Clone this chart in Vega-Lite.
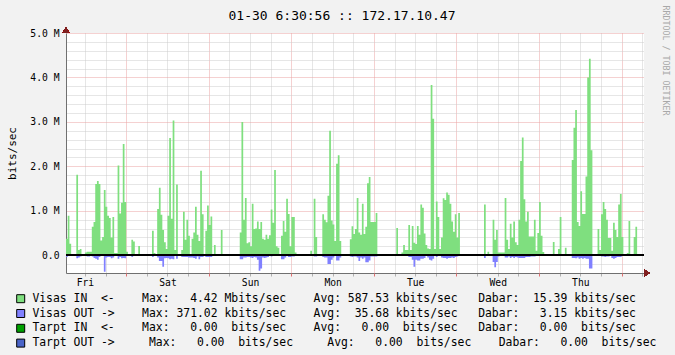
{
  "$schema": "https://vega.github.io/schema/vega-lite/v6.json",
  "width": 578,
  "height": 240,
  "autosize": {"type": "none"},
  "padding": {"left": 66, "top": 33, "right": 31, "bottom": 82},
  "background": "#F2F2F2",
  "config": {
    "view": {"fill": "#FFFFFF", "stroke": null},
    "font": "DejaVu Sans Mono"
  },
  "title": {
    "text": "01-30 6:30:56 :: 172.17.10.47",
    "font": "DejaVu Sans Mono",
    "fontSize": 13,
    "fontWeight": "normal",
    "color": "#000000",
    "anchor": "middle",
    "frame": "group",
    "baseline": "alphabetic",
    "dx": -13,
    "offset": -28
  },
  "data": {
    "values": [
      {"h":6.5,"vin":0.37,"vout":-0.04},{"h":7,"vin":0.89,"vout":0},{"h":7.5,"vin":0.26,"vout":0},{"h":8,"vin":0.03,"vout":0},{"h":8.5,"vin":0.03,"vout":0},{"h":9,"vin":0,"vout":0},{"h":9.5,"vin":1.81,"vout":-0.07},{"h":10,"vin":0.12,"vout":-0.05},{"h":10.5,"vin":0.14,"vout":-0.03},{"h":11,"vin":0,"vout":0},{"h":11.5,"vin":0,"vout":0},{"h":12,"vin":0.06,"vout":0},{"h":12.5,"vin":0.08,"vout":-0.03},{"h":13,"vin":0.08,"vout":-0.03},{"h":13.5,"vin":0.08,"vout":0},{"h":14,"vin":0.64,"vout":-0.03},{"h":14.5,"vin":0.75,"vout":-0.06},{"h":15,"vin":1.6,"vout":-0.08},{"h":15.5,"vin":1.67,"vout":-0.1},{"h":16,"vin":1.6,"vout":-0.04},{"h":16.5,"vin":0.33,"vout":0},{"h":17,"vin":0.41,"vout":0},{"h":17.5,"vin":1.47,"vout":-0.37},{"h":18,"vin":1.09,"vout":-0.05},{"h":18.5,"vin":0.89,"vout":-0.04},{"h":19,"vin":0.84,"vout":-0.04},{"h":19.5,"vin":0.4,"vout":-0.07},{"h":20,"vin":0.86,"vout":-0.05},{"h":20.5,"vin":0.05,"vout":0},{"h":21,"vin":0.05,"vout":0},{"h":21.5,"vin":2.02,"vout":-0.08},{"h":22,"vin":0.94,"vout":-0.04},{"h":22.5,"vin":1.18,"vout":-0.07},{"h":23,"vin":2.5,"vout":-0.06},{"h":23.5,"vin":1.2,"vout":-0.07},
      {"h":24,"vin":0.08,"vout":0},{"h":24.5,"vin":0,"vout":0},{"h":25,"vin":0,"vout":0},{"h":25.5,"vin":0.35,"vout":-0.04},{"h":26,"vin":0.31,"vout":0},{"h":26.5,"vin":0,"vout":0},{"h":27,"vin":0,"vout":0},{"h":27.5,"vin":0.21,"vout":0},{"h":28,"vin":0,"vout":0},{"h":28.5,"vin":0,"vout":0},{"h":29,"vin":0,"vout":0},{"h":29.5,"vin":0,"vout":0},{"h":30,"vin":0,"vout":0},{"h":30.5,"vin":0,"vout":0},{"h":31,"vin":0,"vout":0},{"h":31.5,"vin":0.55,"vout":-0.04},{"h":32,"vin":0.05,"vout":0},{"h":32.5,"vin":0.03,"vout":0},{"h":33,"vin":1.04,"vout":-0.05},{"h":33.5,"vin":1.52,"vout":-0.13},{"h":34,"vin":0.91,"vout":-0.13},{"h":34.5,"vin":0.57,"vout":-0.26},{"h":35,"vin":0.29,"vout":-0.07},{"h":35.5,"vin":0.14,"vout":-0.06},{"h":36,"vin":0.89,"vout":-0.07},{"h":36.5,"vin":2.64,"vout":-0.09},{"h":37,"vin":0.82,"vout":-0.08},{"h":37.5,"vin":3.03,"vout":-0.09},{"h":38,"vin":0.12,"vout":0},{"h":38.5,"vin":1.59,"vout":-0.08},{"h":39,"vin":0,"vout":0},{"h":39.5,"vin":0,"vout":0},{"h":40,"vin":0.12,"vout":-0.04},{"h":40.5,"vin":0.98,"vout":-0.04},{"h":41,"vin":0.35,"vout":-0.04},{"h":41.5,"vin":0.8,"vout":-0.04},{"h":42,"vin":0.44,"vout":-0.05},{"h":42.5,"vin":0.03,"vout":-0.05},{"h":43,"vin":0.37,"vout":-0.05},{"h":43.5,"vin":0.51,"vout":-0.06},{"h":44,"vin":1.09,"vout":-0.08},{"h":44.5,"vin":0.46,"vout":-0.03},{"h":45,"vin":0.32,"vout":-0.09},{"h":45.5,"vin":1.9,"vout":-0.04},{"h":46,"vin":0.92,"vout":-0.04},{"h":46.5,"vin":0.03,"vout":0},{"h":47,"vin":0.55,"vout":-0.04},{"h":47.5,"vin":1.12,"vout":-0.04},
      {"h":48,"vin":0.68,"vout":-0.04},{"h":48.5,"vin":0.87,"vout":-0.04},{"h":49,"vin":0.03,"vout":0},{"h":49.5,"vin":0.23,"vout":0},{"h":50,"vin":0.03,"vout":0},{"h":50.5,"vin":0,"vout":0},{"h":51,"vin":0,"vout":0},{"h":51.5,"vin":0.57,"vout":0},{"h":52,"vin":0,"vout":0},{"h":52.5,"vin":0,"vout":0},{"h":53,"vin":0,"vout":0},{"h":53.5,"vin":0,"vout":0},{"h":54,"vin":0,"vout":0},{"h":54.5,"vin":0,"vout":0},{"h":55,"vin":0,"vout":0},{"h":55.5,"vin":0,"vout":0},{"h":56,"vin":0,"vout":0},{"h":56.5,"vin":0.03,"vout":-0.02},{"h":57,"vin":0.51,"vout":-0.09},{"h":57.5,"vin":3.0,"vout":-0.09},{"h":58,"vin":0.8,"vout":-0.05},{"h":58.5,"vin":1.29,"vout":-0.05},{"h":59,"vin":0.27,"vout":-0.04},{"h":59.5,"vin":0.29,"vout":-0.04},{"h":60,"vin":0.2,"vout":-0.05},{"h":60.5,"vin":1.16,"vout":-0.06},{"h":61,"vin":0.59,"vout":-0.04},{"h":61.5,"vin":0.6,"vout":-0.05},{"h":62,"vin":0.76,"vout":-0.1},{"h":62.5,"vin":0.59,"vout":-0.35},{"h":63,"vin":0.75,"vout":-0.3},{"h":63.5,"vin":0.37,"vout":-0.05},{"h":64,"vin":0.35,"vout":-0.06},{"h":64.5,"vin":0.46,"vout":-0.05},{"h":65,"vin":0.37,"vout":-0.04},{"h":65.5,"vin":0.45,"vout":0},{"h":66,"vin":1.03,"vout":-0.03},{"h":66.5,"vin":0.73,"vout":0},{"h":67,"vin":1.92,"vout":0},{"h":67.5,"vin":0.2,"vout":0},{"h":68,"vin":0.17,"vout":0},{"h":68.5,"vin":0.03,"vout":0},{"h":69,"vin":0.44,"vout":-0.09},{"h":69.5,"vin":0.77,"vout":-0.09},{"h":70,"vin":0.53,"vout":-0.05},{"h":70.5,"vin":1.27,"vout":0},{"h":71,"vin":0.93,"vout":-0.04},{"h":71.5,"vin":0.2,"vout":-0.04},
      {"h":72,"vin":0.86,"vout":-0.03},{"h":72.5,"vin":0.86,"vout":-0.03},{"h":73,"vin":0.06,"vout":0},{"h":73.5,"vin":0,"vout":0},{"h":74,"vin":0,"vout":0},{"h":74.5,"vin":0,"vout":0},{"h":75,"vin":0,"vout":0},{"h":75.5,"vin":0,"vout":0},{"h":76,"vin":0,"vout":0},{"h":76.5,"vin":0,"vout":0},{"h":77,"vin":0.03,"vout":0},{"h":77.5,"vin":0.1,"vout":0},{"h":78,"vin":0,"vout":0},{"h":78.5,"vin":1.27,"vout":-0.03},{"h":79,"vin":0.41,"vout":-0.03},{"h":79.5,"vin":0,"vout":0},{"h":80,"vin":0,"vout":0},{"h":80.5,"vin":0.03,"vout":0},{"h":81,"vin":0.92,"vout":-0.04},{"h":81.5,"vin":0.8,"vout":-0.05},{"h":82,"vin":0.74,"vout":-0.05},{"h":82.5,"vin":1.34,"vout":-0.2},{"h":83,"vin":2.8,"vout":-0.2},{"h":83.5,"vin":0.78,"vout":-0.1},{"h":84,"vin":0.69,"vout":-0.05},{"h":84.5,"vin":0.32,"vout":0},{"h":85,"vin":2.06,"vout":-0.12},{"h":85.5,"vin":2.25,"vout":-0.12},{"h":86,"vin":0.32,"vout":-0.05},{"h":86.5,"vin":0,"vout":0},{"h":87,"vin":0,"vout":0},{"h":87.5,"vin":0,"vout":0},{"h":88,"vin":0,"vout":0},{"h":88.5,"vin":0,"vout":0},{"h":89,"vin":0.36,"vout":-0.03},{"h":89.5,"vin":0.65,"vout":-0.04},{"h":90,"vin":0.48,"vout":-0.03},{"h":90.5,"vin":0.59,"vout":-0.03},{"h":91,"vin":1.29,"vout":-0.05},{"h":91.5,"vin":0.51,"vout":-0.13},{"h":92,"vin":0.46,"vout":-0.05},{"h":92.5,"vin":1.16,"vout":-0.08},{"h":93,"vin":0.48,"vout":-0.05},{"h":93.5,"vin":0.64,"vout":-0.16},{"h":94,"vin":1.62,"vout":-0.16},{"h":94.5,"vin":1.76,"vout":-0.12},{"h":95,"vin":0.75,"vout":-0.03},{"h":95.5,"vin":0.75,"vout":-0.03},
      {"h":96,"vin":0.75,"vout":-0.03},{"h":96.5,"vin":0.95,"vout":-0.03},{"h":97,"vin":0.03,"vout":0},{"h":97.5,"vin":0,"vout":0},{"h":98,"vin":0.03,"vout":0},{"h":98.5,"vin":0.03,"vout":0},{"h":99,"vin":0.03,"vout":0},{"h":99.5,"vin":0,"vout":0},{"h":100,"vin":0,"vout":0},{"h":100.5,"vin":0,"vout":0},{"h":101,"vin":0,"vout":0},{"h":101.5,"vin":0,"vout":0},{"h":102,"vin":0,"vout":0},{"h":102.5,"vin":0.61,"vout":-0.02},{"h":103,"vin":0,"vout":0},{"h":103.5,"vin":0,"vout":0},{"h":104,"vin":0.06,"vout":0},{"h":104.5,"vin":0.23,"vout":0},{"h":105,"vin":0.12,"vout":0},{"h":105.5,"vin":0.12,"vout":0},{"h":106,"vin":0.68,"vout":-0.04},{"h":106.5,"vin":0.12,"vout":-0.04},{"h":107,"vin":0.66,"vout":-0.1},{"h":107.5,"vin":0.28,"vout":-0.26},{"h":108,"vin":0.25,"vout":-0.1},{"h":108.5,"vin":0.66,"vout":-0.12},{"h":109,"vin":0.46,"vout":-0.12},{"h":109.5,"vin":1.14,"vout":-0.08},{"h":110,"vin":1.07,"vout":-0.08},{"h":110.5,"vin":0.49,"vout":-0.06},{"h":111,"vin":0.23,"vout":0},{"h":111.5,"vin":0.15,"vout":-0.05},{"h":112,"vin":0.14,"vout":-0.1},{"h":112.5,"vin":3.83,"vout":-0.12},{"h":113,"vin":3.07,"vout":-0.08},{"h":113.5,"vin":0.14,"vout":0},{"h":114,"vin":1.21,"vout":-0.04},{"h":114.5,"vin":0.86,"vout":0},{"h":115,"vin":0.14,"vout":0},{"h":115.5,"vin":0.4,"vout":-0.05},{"h":116,"vin":1.28,"vout":-0.06},{"h":116.5,"vin":1.24,"vout":-0.06},{"h":117,"vin":1.41,"vout":-0.08},{"h":117.5,"vin":1.36,"vout":-0.06},{"h":118,"vin":1.16,"vout":-0.06},{"h":118.5,"vin":0.76,"vout":-0.05},{"h":119,"vin":0.53,"vout":-0.06},{"h":119.5,"vin":0.92,"vout":-0.04},
      {"h":120,"vin":0.4,"vout":-0.03},{"h":120.5,"vin":0.95,"vout":0},{"h":121,"vin":0.03,"vout":-0.02},{"h":121.5,"vin":0,"vout":0},{"h":122,"vin":0,"vout":0},{"h":122.5,"vin":0,"vout":0},{"h":123,"vin":0,"vout":0},{"h":123.5,"vin":0,"vout":0},{"h":124,"vin":0,"vout":0},{"h":124.5,"vin":0.03,"vout":0},{"h":125,"vin":0,"vout":0},{"h":125.5,"vin":0.03,"vout":0},{"h":126,"vin":0,"vout":0},{"h":126.5,"vin":0,"vout":0},{"h":127,"vin":0,"vout":0},{"h":127.5,"vin":0,"vout":0},{"h":128,"vin":1.14,"vout":-0.06},{"h":128.5,"vin":0.03,"vout":0},{"h":129,"vin":0.08,"vout":0},{"h":129.5,"vin":0.03,"vout":0},{"h":130,"vin":0.03,"vout":0},{"h":130.5,"vin":0.8,"vout":-0.15},{"h":131,"vin":0.35,"vout":-0.27},{"h":131.5,"vin":0.57,"vout":-0.15},{"h":132,"vin":0.06,"vout":-0.03},{"h":132.5,"vin":0.06,"vout":0},{"h":133,"vin":0.06,"vout":0},{"h":133.5,"vin":0.06,"vout":0},{"h":134,"vin":1.29,"vout":-0.05},{"h":134.5,"vin":0.35,"vout":-0.05},{"h":135,"vin":0.14,"vout":-0.03},{"h":135.5,"vin":0.71,"vout":-0.06},{"h":136,"vin":0.4,"vout":-0.04},{"h":136.5,"vin":0.76,"vout":-0.06},{"h":137,"vin":0.29,"vout":-0.04},{"h":137.5,"vin":0.23,"vout":-0.05},{"h":138,"vin":0.8,"vout":-0.06},{"h":138.5,"vin":2.12,"vout":-0.06},{"h":139,"vin":2.65,"vout":-0.06},{"h":139.5,"vin":1.26,"vout":-0.06},{"h":140,"vin":0.76,"vout":-0.04},{"h":140.5,"vin":0.98,"vout":-0.04},{"h":141,"vin":0.42,"vout":-0.04},{"h":141.5,"vin":0.42,"vout":-0.03},{"h":142,"vin":0.42,"vout":-0.03},{"h":142.5,"vin":0.8,"vout":-0.03},{"h":143,"vin":0.1,"vout":0},{"h":143.5,"vin":0.5,"vout":0},
      {"h":144,"vin":1.2,"vout":-0.02},{"h":144.5,"vin":0.44,"vout":-0.02},{"h":145,"vin":0.07,"vout":-0.02},{"h":145.5,"vin":0,"vout":0},{"h":146,"vin":0,"vout":0},{"h":146.5,"vin":0,"vout":0},{"h":147,"vin":0,"vout":0},{"h":147.5,"vin":0,"vout":0},{"h":148,"vin":0.3,"vout":0},{"h":148.5,"vin":0,"vout":0},{"h":149,"vin":0,"vout":0},{"h":149.5,"vin":0.14,"vout":0},{"h":150,"vin":0.86,"vout":-0.02},{"h":150.5,"vin":0,"vout":0},{"h":151,"vin":0,"vout":0},{"h":151.5,"vin":0.17,"vout":0},{"h":152,"vin":0,"vout":0},{"h":152.5,"vin":0,"vout":0},{"h":153,"vin":0,"vout":0},{"h":153.5,"vin":2.14,"vout":-0.06},{"h":154,"vin":2.87,"vout":-0.06},{"h":154.5,"vin":3.27,"vout":-0.07},{"h":155,"vin":0.75,"vout":-0.05},{"h":155.5,"vin":0.66,"vout":-0.08},{"h":156,"vin":1.44,"vout":-0.06},{"h":156.5,"vin":0.93,"vout":-0.08},{"h":157,"vin":0.93,"vout":-0.06},{"h":157.5,"vin":1.77,"vout":-0.08},{"h":158,"vin":4.0,"vout":-0.08},{"h":158.5,"vin":4.42,"vout":-0.3},{"h":159,"vin":2.36,"vout":-0.3},{"h":159.5,"vin":0.03,"vout":0},{"h":160,"vin":0.03,"vout":0},{"h":160.5,"vin":0.03,"vout":0},{"h":161,"vin":0.59,"vout":-0.02},{"h":161.5,"vin":0.12,"vout":0},{"h":162,"vin":0.92,"vout":-0.03},{"h":162.5,"vin":1.2,"vout":-0.03},{"h":163,"vin":1.04,"vout":-0.04},{"h":163.5,"vin":0.8,"vout":-0.03},{"h":164,"vin":0.39,"vout":-0.03},{"h":164.5,"vin":0.39,"vout":0},{"h":165,"vin":0.1,"vout":-0.06},{"h":165.5,"vin":0.73,"vout":-0.08},{"h":166,"vin":0.57,"vout":-0.06},{"h":166.5,"vin":0.41,"vout":-0.04},{"h":167,"vin":1.14,"vout":-0.04},{"h":167.5,"vin":1.38,"vout":-0.04},
      {"h":168,"vin":0.41,"vout":0},{"h":168.5,"vin":0,"vout":0},{"h":169,"vin":0,"vout":0},{"h":169.5,"vin":0.05,"vout":0},{"h":170,"vin":0.77,"vout":0},{"h":170.5,"vin":0,"vout":0},{"h":171,"vin":0,"vout":0},{"h":171.5,"vin":0.41,"vout":-0.02},{"h":172,"vin":0.64,"vout":-0.02},{"h":172.5,"vin":0,"vout":0},{"h":173,"vin":0,"vout":0},{"h":173.5,"vin":0,"vout":0},{"h":174,"vin":0,"vout":0},{"h":174.5,"vin":0,"vout":0}
    ]
  },
  "layer": [
    {
      "mark": {"type": "area", "interpolate": "step-after", "opacity": 1},
      "encoding": {
        "x": {
          "field": "h", "type": "quantitative",
          "scale": {"domain": [6.5, 174.5], "nice": false, "zero": false},
          "axis": {
            "orient": "bottom", "title": null,
            "values": [12, 18, 30, 36, 42, 54, 60, 66, 78, 84, 90, 102, 108, 114, 126, 132, 138, 150, 156, 162, 174],
            "labelExpr": "datum.value % 24 == 12 ? ['Fri','Sat','Sun','Mon','Tue','Wed','Thu'][floor(datum.value / 24)] : ''",
            "labelFont": "DejaVu Sans Mono", "labelFontSize": 9.7, "labelColor": "#000000",
            "labelPadding": 1.5, "labelOverlap": false, "labelFlush": false, "labelBound": false,
            "grid": true, "gridColor": "#CDCDCD", "gridDash": [1, 1], "gridWidth": 1,
            "ticks": true, "tickColor": "#B0B0B0", "tickSize": 3, "tickWidth": 1,
            "domain": true, "domainColor": "#707070", "domainWidth": 1
          }
        },
        "y": {
          "field": "vin", "type": "quantitative",
          "scale": {"domain": [-0.4, 5.0], "nice": false, "zero": false},
          "axis": {
            "orient": "left", "title": "bits/sec",
            "titleFont": "DejaVu Sans Mono", "titleFontSize": 11, "titleFontWeight": "normal", "titleColor": "#000000", "titlePadding": 12,
            "values": [0, 1, 2, 3, 4, 5],
            "labelExpr": "datum.value == 0 ? '0.0\u00a0\u00a0' : format(datum.value, '.1f') + '\u00a0M'",
            "labelFont": "DejaVu Sans Mono", "labelFontSize": 9.7, "labelColor": "#000000",
            "labelPadding": 7, "labelOverlap": false, "labelFlush": false, "labelBound": false,
            "ticks": false,
            "grid": true, "gridColor": "#EBA3A3", "gridDash": [1, 1], "gridWidth": 1,
            "domain": true, "domainColor": "#707070", "domainWidth": 1
          }
        },
        "y2": {"datum": 0},
        "color": {
          "datum": "Visas IN", "type": "nominal",
          "scale": {
            "domain": ["Visas IN", "Visas OUT", "Tarpt IN", "Tarpt OUT"],
            "range": ["#7FDF7F", "#8080FF", "#00A000", "#4A64C8"]
          },
          "legend": {
            "orient": "none", "legendX": -51, "legendY": 260, "direction": "vertical",
            "title": null, "padding": 0,
            "symbolType": "square", "symbolSize": 64, "symbolStrokeColor": "#000000", "symbolStrokeWidth": 1, "symbolOpacity": 1,
            "labelFont": "DejaVu Sans Mono", "labelFontSize": 11.4, "labelColor": "#000000", "labelLimit": 0, "labelOffset": 6,
            "rowPadding": 1.8,
            "labelExpr": "datum.label == 'Visas IN' ? 'Visas\u00a0IN\u00a0\u00a0<-\u00a0\u00a0\u00a0\u00a0Max:\u00a0\u00a0\u00a04.42\u00a0Mbits/sec\u00a0\u00a0\u00a0\u00a0Avg:\u00a0587.53\u00a0kbits/sec\u00a0\u00a0\u00a0Dabar:\u00a0\u00a015.39\u00a0kbits/sec' : datum.label == 'Visas OUT' ? 'Visas\u00a0OUT\u00a0->\u00a0\u00a0\u00a0\u00a0Max:\u00a0371.02\u00a0kbits/sec\u00a0\u00a0\u00a0\u00a0Avg:\u00a0\u00a035.68\u00a0kbits/sec\u00a0\u00a0\u00a0Dabar:\u00a0\u00a0\u00a03.15\u00a0kbits/sec' : datum.label == 'Tarpt IN' ? 'Tarpt\u00a0IN\u00a0\u00a0<-\u00a0\u00a0\u00a0\u00a0Max:\u00a0\u00a0\u00a00.00\u00a0\u00a0bits/sec\u00a0\u00a0\u00a0\u00a0Avg:\u00a0\u00a0\u00a00.00\u00a0\u00a0bits/sec\u00a0\u00a0\u00a0Dabar:\u00a0\u00a0\u00a00.00\u00a0\u00a0bits/sec' : 'Tarpt\u00a0OUT\u00a0->\u00a0\u00a0\u00a0\u00a0\u00a0Max:\u00a0\u00a0\u00a00.00\u00a0\u00a0bits/sec\u00a0\u00a0\u00a0\u00a0\u00a0Avg:\u00a0\u00a0\u00a00.00\u00a0\u00a0bits/sec\u00a0\u00a0\u00a0\u00a0Dabar:\u00a0\u00a0\u00a00.00\u00a0\u00a0bits/sec'"
          }
        }
      }
    },
    {
      "mark": {"type": "area", "interpolate": "step-after", "opacity": 1},
      "encoding": {
        "x": {
          "field": "h", "type": "quantitative",
          "axis": {
            "orient": "bottom", "title": null,
            "values": [24, 48, 72, 96, 120, 144, 168],
            "labels": false, "domain": false,
            "ticks": true, "tickColor": "#E07070", "tickSize": 3, "tickWidth": 1,
            "grid": true, "gridColor": "#EBA3A3", "gridDash": [1, 1], "gridWidth": 1
          }
        },
        "y": {
          "field": "vout", "type": "quantitative",
          "axis": {
            "orient": "left", "title": null,
            "values": [-0.2, 0.2, 0.4, 0.6, 0.8, 1.2, 1.4, 1.6, 1.8, 2.2, 2.4, 2.6, 2.8, 3.2, 3.4, 3.6, 3.8, 4.2, 4.4, 4.6, 4.8],
            "labels": false, "ticks": false, "domain": false,
            "grid": true, "gridColor": "#CDCDCD", "gridDash": [1, 1], "gridWidth": 1
          }
        },
        "y2": {"datum": 0},
        "color": {"datum": "Visas OUT", "type": "nominal"}
      }
    },
    {
      "mark": {"type": "rule", "color": "#000000", "strokeWidth": 1.5},
      "encoding": {
        "y": {
          "datum": 0, "type": "quantitative",
          "axis": {
            "orient": "right", "title": "RRDTOOL / TOBI OETIKER",
            "titleFont": "DejaVu Sans Mono", "titleFontSize": 8.3, "titleFontWeight": "normal", "titleColor": "#A8A8A8",
            "titleAngle": 90, "titleAlign": "left", "titleBaseline": "middle", "titleX": 20.5, "titleY": -28,
            "labels": false, "ticks": false, "domain": false, "grid": false
          }
        }
      }
    },
    {
      "mark": {"type": "point", "shape": "triangle-up", "filled": true, "color": "#801F1F", "size": 40, "opacity": 1},
      "encoding": {
        "x": {"datum": 6.5, "type": "quantitative", "axis": null},
        "y": {"datum": 5.07, "type": "quantitative", "axis": null}
      }
    },
    {
      "mark": {"type": "point", "shape": "triangle-right", "filled": true, "color": "#801F1F", "size": 40, "opacity": 1},
      "encoding": {
        "x": {"datum": 175.37, "type": "quantitative", "axis": null},
        "y": {"datum": -0.4, "type": "quantitative", "axis": null}
      }
    }
  ],
  "resolve": {"axis": {"x": "independent", "y": "independent"}}
}
